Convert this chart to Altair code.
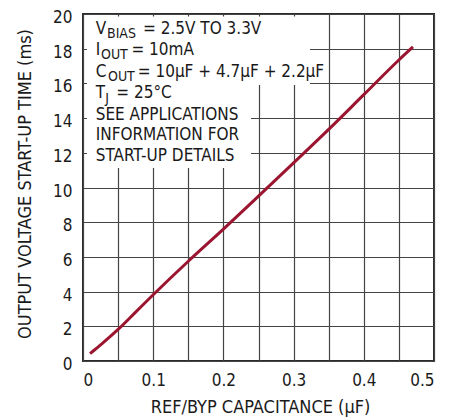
import altair as alt
import pandas as pd

# Curve
cap_uF = [0.01, 0.02, 0.03, 0.05, 0.075, 0.10, 0.15, 0.20, 0.25, 0.30, 0.35, 0.40, 0.45, 0.47]
t_ms = [0.42, 0.76, 1.10, 1.82, 2.82, 3.82, 5.75, 7.60, 9.50, 11.42, 13.35, 15.35, 17.35, 18.10]

x_grid = [0.0, 0.05, 0.10, 0.15, 0.20, 0.25, 0.30, 0.35, 0.40, 0.45, 0.50]
y_ticks = [0, 2, 4, 6, 8, 10, 12, 14, 16, 18, 20]

# Annotation (legend box) text pieces, positioned in data units
main_text = ["V", "= 2.5V TO 3.3V", "I", "= 10mA", "C", "= 10µF + 4.7µF + 2.2µF",
             "T", "= 25°C", "SEE APPLICATIONS", "INFORMATION FOR", "START-UP DETAILS"]
main_x = [0.0181, 0.0855, 0.0181, 0.0690, 0.0181, 0.0780, 0.0181, 0.0474, 0.0181, 0.0181, 0.0181]
main_y = [18.865, 18.865, 17.620, 17.620, 16.369, 16.369, 15.130, 15.130, 13.890, 12.709, 11.527]

sub_text = ["BIAS", "OUT", "OUT", "J"]
sub_x = [0.0342, 0.0256, 0.0356, 0.0318]
sub_y = [18.634, 17.389, 16.138, 14.899]

# White boxes behind the annotation text (data units)
box_x = [0.0057, 0.0057]
box_x2 = [0.3234, 0.2393]
box_y = [19.856, 15.908]
box_y2 = [15.908, 11.124]

FONT = "DejaVu Sans Condensed, Roboto, sans-serif"
INK = "#1a1a1a"

curve_df = pd.DataFrame({"x": cap_uF, "y": t_ms})
main_df = pd.DataFrame({"x": main_x, "y": main_y, "t": main_text})
sub_df = pd.DataFrame({"x": sub_x, "y": sub_y, "t": sub_text})
box_df = pd.DataFrame({"x": box_x, "x2": box_x2, "y": box_y, "y2": box_y2})

xscale = alt.Scale(domain=[0, 0.5], nice=False, zero=False)
yscale = alt.Scale(domain=[0, 20], nice=False)

label_expr = "(round(datum.value*100) % 10 == 0) ? format(datum.value, '.1~f') : ''"

x_axis = alt.Axis(values=x_grid, labelExpr=label_expr, title="REF/BYP CAPACITANCE (µF)",
                  grid=True, ticks=False, domain=False, labelPadding=11,
                  labelFontSize=17, labelFont=FONT, labelColor=INK,
                  titleFont=FONT, titleFontSize=18, titleFontWeight="normal", titleColor=INK,
                  titleX=177, titleY=51, titleBaseline="alphabetic", titleAlign="center")
y_axis = alt.Axis(values=y_ticks, title="OUTPUT VOLTAGE START-UP TIME (ms)",
                  grid=True, ticks=False, domain=False, labelPadding=11, labelOffset=3.5,
                  labelFontSize=17, labelFont=FONT, labelColor=INK,
                  titleFont=FONT, titleFontSize=18, titleFontWeight="normal", titleColor=INK,
                  titleX=-58, titleY=169.5, titleAngle=270, titleBaseline="middle", titleAlign="center")

X = alt.X("x:Q", scale=xscale, axis=x_axis)
Y = alt.Y("y:Q", scale=yscale, axis=y_axis)

line = alt.Chart(curve_df).mark_line(color="#9b1530", strokeWidth=3, interpolate="monotone").encode(
    x=X, y=Y,
)

boxes = alt.Chart(box_df).mark_rect(fill="white").encode(
    x=X, x2="x2:Q", y=Y, y2="y2:Q",
)

main_txt = alt.Chart(main_df).mark_text(align="left", baseline="alphabetic", font=FONT,
                                        fontSize=17, color=INK).encode(
    x=X, y=Y, text="t:N",
)

sub_txt = alt.Chart(sub_df).mark_text(align="left", baseline="alphabetic", font=FONT,
                                      fontSize=14, color=INK).encode(
    x=X, y=Y, text="t:N",
)

chart = alt.layer(boxes, line, main_txt, sub_txt).properties(
    width=351, height=347,
    autosize=alt.AutoSizeParams(type="none"),
    padding={"left": 75, "top": 6, "right": 16, "bottom": 56},
).configure_view(
    stroke="#2a2a2a", strokeWidth=2
).configure_axis(
    gridColor="#444444", gridWidth=1.2, gridOpacity=1
)

chart.save("out.html", embed_options={"renderer": "svg", "actions": False})
